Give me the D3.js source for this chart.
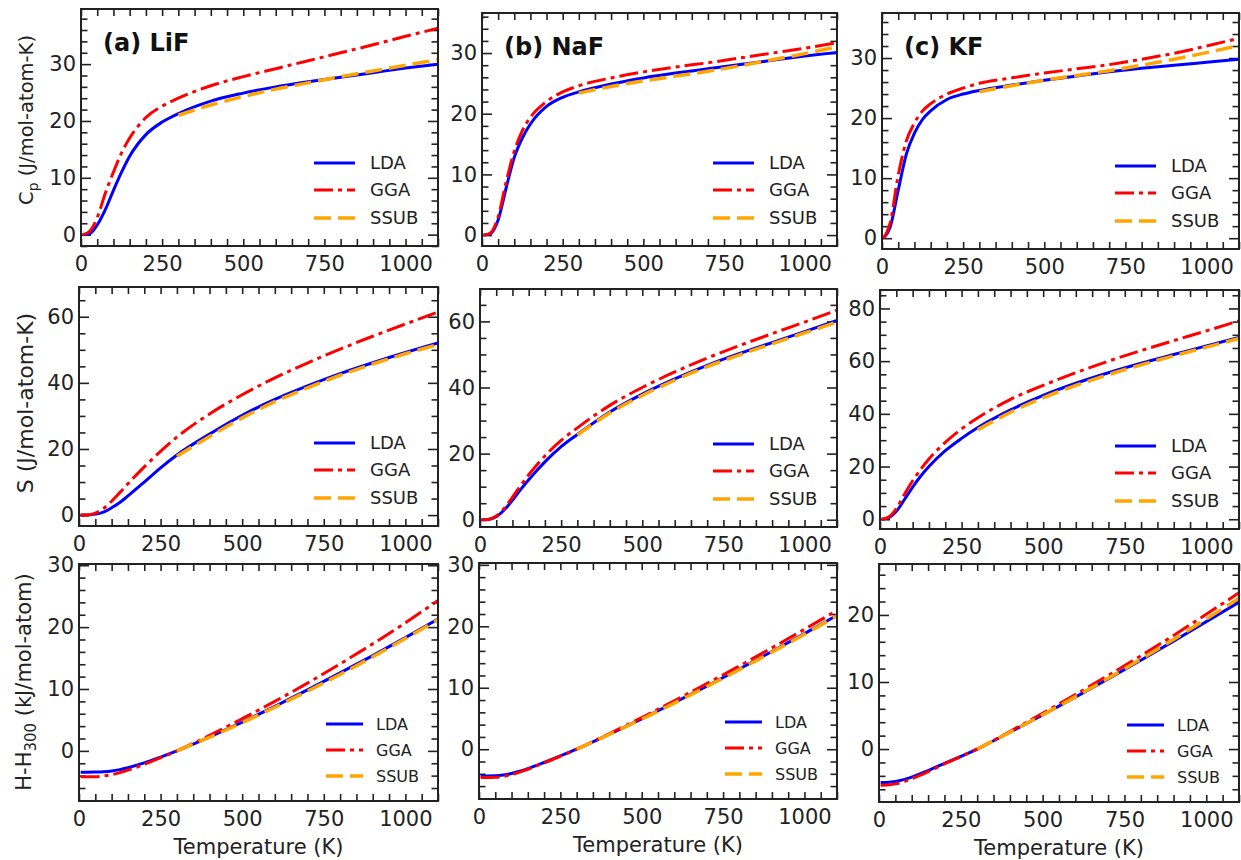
<!DOCTYPE html>
<html>
<head>
<meta charset="utf-8">
<script src="https://cdn.jsdelivr.net/npm/d3@7"></script>
<style>
  body { margin: 0; background: #fff; }
  svg { display: block; font-family: "DejaVu Sans", sans-serif; }
</style>
</head>
<body>
<svg id="fig" width="1241" height="860"></svg>
<script>
// temperatures (K) used for every curve, SSUB only from 300 K
var temps = [5, 25, 50, 75, 100, 125, 150, 200, 250, 300, 400, 500, 600, 700, 800, 900, 1000, 1100];
var ssubTemps = [300, 400, 500, 600, 700, 800, 900, 1000, 1100];

// heat capacity Cp (J/mol-atom-K)
var cpLiF_LDA  = [0, 0.1, 1.7, 4.4, 7.8, 11.0, 13.8, 17.6, 19.8, 21.3, 23.5, 24.9, 26.0, 26.9, 27.7, 28.5, 29.3, 30.0];
var cpLiF_GGA  = [0, 0.5, 3.0, 7.3, 11.0, 14.4, 17.0, 20.6, 22.6, 24.0, 26.2, 27.8, 29.2, 30.6, 32.0, 33.4, 34.9, 36.3];
var cpLiF_SSUB = [21.0, 22.8, 24.3, 25.6, 26.7, 27.8, 28.8, 29.8, 30.8];
var cpNaF_LDA  = [0, 0.2, 2.5, 7.8, 12.8, 16.0, 18.3, 21.2, 22.7, 23.6, 24.9, 25.9, 26.7, 27.4, 28.1, 28.8, 29.5, 30.1];
var cpNaF_GGA  = [0, 0.3, 3.0, 8.8, 13.8, 17.2, 19.4, 22.0, 23.6, 24.6, 25.9, 26.9, 27.7, 28.4, 29.2, 30.0, 30.8, 31.7];
var cpNaF_SSUB = [23.4, 24.5, 25.4, 26.2, 27.0, 27.9, 28.9, 29.9, 31.0];
var cpKF_LDA   = [0, 1.8, 8.0, 14.0, 17.5, 19.8, 21.2, 23.1, 24.0, 24.6, 25.5, 26.3, 27.0, 27.7, 28.3, 28.8, 29.3, 29.8];
var cpKF_GGA   = [0, 2.5, 10.5, 16.2, 19.2, 21.2, 22.4, 24.0, 25.0, 25.8, 26.7, 27.5, 28.2, 28.9, 29.8, 30.8, 32.0, 33.3];
var cpKF_SSUB  = [24.4, 25.4, 26.3, 27.1, 27.9, 28.8, 29.8, 30.9, 32.1];

// entropy S (J/mol-atom-K)
var sLiF_LDA  = [0, 0, 0.3, 0.9, 2.2, 3.8, 5.8, 10.0, 14.3, 18.2, 24.5, 30.2, 35.0, 39.1, 42.8, 46.1, 49.2, 52.1];
var sLiF_GGA  = [0, 0.05, 0.6, 2.0, 4.2, 6.8, 9.5, 14.6, 19.3, 23.6, 30.6, 36.4, 41.5, 46.0, 50.2, 54.1, 57.8, 61.4];
var sLiF_SSUB = [17.8, 23.8, 29.4, 34.3, 38.5, 42.3, 45.7, 48.8, 51.6];
var sNaF_LDA  = [0, 0.1, 0.9, 3.0, 5.9, 9.1, 12.1, 17.5, 22.1, 25.8, 32.6, 38.0, 42.6, 46.7, 50.3, 53.6, 56.9, 60.3];
var sNaF_GGA  = [0, 0.1, 1.1, 3.5, 6.8, 10.3, 13.6, 19.3, 24.0, 27.8, 34.6, 40.0, 44.7, 48.9, 52.7, 56.3, 59.8, 63.4];
var sNaF_SSUB = [25.6, 32.3, 37.6, 42.2, 46.3, 49.9, 53.2, 56.5, 59.8];
var sKF_LDA   = [0, 0.5, 3.0, 7.5, 12.2, 16.4, 20.0, 26.0, 30.7, 34.8, 41.5, 47.0, 51.6, 55.6, 59.2, 62.5, 65.8, 69.0];
var sKF_GGA   = [0, 0.7, 4.0, 9.5, 14.6, 19.0, 22.9, 29.2, 34.3, 38.5, 45.5, 50.8, 55.6, 60.0, 64.0, 67.8, 71.5, 75.3];
var sKF_SSUB  = [34.0, 40.6, 46.1, 50.8, 54.9, 58.6, 62.0, 65.3, 68.6];

// enthalpy H-H300 (kJ/mol-atom)
var hLiF_LDA  = [-3.45, -3.45, -3.43, -3.37, -3.25, -3.03, -2.72, -1.94, -1.0, 0, 2.25, 4.65, 7.2, 9.85, 12.6, 15.4, 18.3, 21.3];
var hLiF_GGA  = [-4.2, -4.2, -4.17, -4.06, -3.84, -3.51, -3.11, -2.16, -1.1, 0, 2.5, 5.2, 8.0, 10.95, 14.05, 17.3, 20.7, 24.3];
var hLiF_SSUB = [0, 2.2, 4.55, 7.05, 9.65, 12.35, 15.2, 18.15, 21.2];
var hNaF_LDA  = [-4.35, -4.35, -4.33, -4.2, -3.95, -3.58, -3.15, -2.16, -1.1, 0, 2.42, 4.95, 7.58, 10.28, 13.05, 15.9, 18.8, 21.8];
var hNaF_GGA  = [-4.6, -4.6, -4.57, -4.42, -4.12, -3.72, -3.26, -2.23, -1.13, 0, 2.52, 5.15, 7.88, 10.68, 13.55, 16.5, 19.5, 22.6];
var hNaF_SSUB = [0, 2.4, 4.9, 7.5, 10.2, 12.95, 15.8, 18.7, 21.7];
var hKF_LDA   = [-5.0, -4.98, -4.85, -4.57, -4.18, -3.72, -3.21, -2.13, -1.08, 0, 2.5, 5.08, 7.74, 10.47, 13.25, 16.1, 19.0, 21.9];
var hKF_GGA   = [-5.4, -5.37, -5.2, -4.88, -4.43, -3.93, -3.38, -2.22, -1.12, 0, 2.62, 5.33, 8.12, 10.97, 13.9, 16.95, 20.1, 23.3];
var hKF_SSUB  = [0, 2.5, 5.1, 7.8, 10.55, 13.4, 16.35, 19.4, 22.5];

// tick labels
var xTicks = [0, 250, 500, 750, 1000];
var cpTicks = [0, 10, 20, 30];
var sTicks = [0, 20, 40, 60, 80];
var hTicks = [-10, 0, 10, 20, 30];
var seriesNames = ["LDA", "GGA", "SSUB"];

var colors = { LDA: "#0000ff", GGA: "#ff0000", SSUB: "#ffa500" };
var dashes = { LDA: null, GGA: "19,5,4,5", SSUB: "17,7" };
var widths = { LDA: 3, GGA: 3, SSUB: 3.5 };
var ink = "#222";

var svg = d3.select("#fig");

var panels = [
  { id: "a1", x0: 81, x1: 438, y0: 9, y1: 246, dom: [-2, 39.7], ticks: cpTicks, minor: 2,
    data: [cpLiF_LDA, cpLiF_GGA, cpLiF_SSUB], title: "(a) LiF", ylab: "cp", leg: 18 },
  { id: "b1", x0: 482, x1: 837, y0: 13, y1: 246, dom: [-1.8, 36.6], ticks: cpTicks, minor: 2,
    data: [cpNaF_LDA, cpNaF_GGA, cpNaF_SSUB], title: "(b) NaF", leg: 18 },
  { id: "c1", x0: 882, x1: 1239, y0: 13, y1: 249, dom: [-1.8, 37.5], ticks: cpTicks, minor: 2,
    data: [cpKF_LDA, cpKF_GGA, cpKF_SSUB], title: "(c) KF", leg: 18 },
  { id: "a2", x0: 79, x1: 438, y0: 287, y1: 526, dom: [-3.3, 69], ticks: sTicks, minor: 5,
    data: [sLiF_LDA, sLiF_GGA, sLiF_SSUB], ylab: "s", leg: 18 },
  { id: "b2", x0: 480, x1: 837, y0: 289, y1: 527, dom: [-2.2, 69.8], ticks: sTicks, minor: 5,
    data: [sNaF_LDA, sNaF_GGA, sNaF_SSUB], leg: 18 },
  { id: "c2", x0: 880, x1: 1239, y0: 290, y1: 529, dom: [-3.7, 87], ticks: sTicks, minor: 5,
    data: [sKF_LDA, sKF_GGA, sKF_SSUB], leg: 18 },
  { id: "a3", x0: 79, x1: 438, y0: 564, y1: 801, dom: [-8.1, 30.2], ticks: hTicks, minor: 2,
    data: [hLiF_LDA, hLiF_GGA, hLiF_SSUB], ylab: "h", xlab: true, leg: 16 },
  { id: "b3", x0: 479, x1: 837, y0: 563, y1: 799, dom: [-8.1, 30.3], ticks: hTicks, minor: 2,
    data: [hNaF_LDA, hNaF_GGA, hNaF_SSUB], xlab: true, leg: 16 },
  { id: "c3", x0: 879, x1: 1239, y0: 564, y1: 802, dom: [-7.9, 27.6], ticks: hTicks, minor: 2,
    data: [hKF_LDA, hKF_GGA, hKF_SSUB], xlab: true, leg: 16 }
];

function inside(v, dom){ return v >= dom[0] - 1e-9 && v <= dom[1] + 1e-9; }

function styleAxis(sel, fs){
  sel.select(".domain").remove();
  sel.selectAll(".tick line").attr("stroke", ink).attr("stroke-width", 1.6);
  sel.selectAll(".tick text").attr("fill", ink).attr("font-size", fs)
     .attr("font-family", "DejaVu Sans, sans-serif");
}

function drawPanel(p){
  var x = d3.scaleLinear().domain([0, 1100]).range([p.x0, p.x1]);
  var y = d3.scaleLinear().domain(p.dom).range([p.y1, p.y0]);
  var g = svg.append("g");

  var xMinor = d3.range(0, 1101, 50);
  var yMajor = p.ticks.filter(function(d){ return inside(d, p.dom); });
  var yMinor = d3.range(Math.ceil(p.dom[0] / p.minor) * p.minor, p.dom[1], p.minor)
    .filter(function(d){ return yMajor.indexOf(d) < 0; });

  // bottom and top ticks (inward)
  g.append("g").attr("transform", "translate(0," + p.y1 + ")")
    .call(d3.axisBottom(x).tickValues(xMinor).tickSize(-7).tickPadding(10)
      .tickFormat(function(d){ return xTicks.indexOf(d) >= 0 ? d : ""; }))
    .call(styleAxis, 21);
  g.append("g").attr("transform", "translate(0," + p.y0 + ")")
    .call(d3.axisTop(x).tickValues(xMinor).tickSize(-7).tickFormat(""))
    .call(styleAxis, 21);

  // left and right ticks
  g.append("g").attr("transform", "translate(" + p.x0 + ",0)")
    .call(d3.axisLeft(y).tickValues(yMajor).tickSize(-10).tickPadding(5).tickFormat(d3.format("d")))
    .call(styleAxis, 21);
  g.append("g").attr("transform", "translate(" + p.x0 + ",0)")
    .call(d3.axisLeft(y).tickValues(yMinor).tickSize(-6.5).tickFormat(""))
    .call(styleAxis, 21);
  g.append("g").attr("transform", "translate(" + p.x1 + ",0)")
    .call(d3.axisRight(y).tickValues(yMajor).tickSize(-10).tickFormat(""))
    .call(styleAxis, 21);
  g.append("g").attr("transform", "translate(" + p.x1 + ",0)")
    .call(d3.axisRight(y).tickValues(yMinor).tickSize(-6.5).tickFormat(""))
    .call(styleAxis, 21);

  // curves
  svg.append("clipPath").attr("id", "clip" + p.id)
    .append("rect").attr("x", p.x0).attr("y", p.y0)
    .attr("width", p.x1 - p.x0).attr("height", p.y1 - p.y0);

  var line = d3.line()
    .x(function(d){ return x(d[0]); })
    .y(function(d){ return y(d[1]); })
    .curve(d3.curveMonotoneX);

  seriesNames.forEach(function(name, i){
    var ts = name == "SSUB" ? ssubTemps : temps;
    var pts = ts.map(function(t, j){ return [t, p.data[i][j]]; });
    g.append("path").datum(pts)
      .attr("clip-path", "url(#clip" + p.id + ")")
      .attr("d", line)
      .attr("fill", "none")
      .attr("stroke", colors[name])
      .attr("stroke-width", widths[name])
      .attr("stroke-dasharray", dashes[name]);
  });

  // frame
  g.append("rect").attr("x", p.x0).attr("y", p.y0)
    .attr("width", p.x1 - p.x0).attr("height", p.y1 - p.y0)
    .attr("fill", "none").attr("stroke", ink).attr("stroke-width", 2);

  // legend, lower right
  var big = p.leg == 18;
  var lx0 = p.x1 - (big ? 124 : 112), lx1 = p.x1 - (big ? 83 : 75), tx = p.x1 - (big ? 68 : 62);
  var rows = big ? [83, 56, 28] : [77, 51, 25];
  seriesNames.forEach(function(name, i){
    var ly = p.y1 - rows[i];
    g.append("line").attr("x1", lx0).attr("x2", lx1).attr("y1", ly).attr("y2", ly)
      .attr("stroke", colors[name]).attr("stroke-width", widths[name])
      .attr("stroke-dasharray", dashes[name]);
    g.append("text").attr("x", tx).attr("y", ly).attr("dy", "0.36em")
      .attr("font-size", p.leg).attr("fill", ink).text(name);
  });

  if (p.title) {
    g.append("text").attr("x", p.x0 + 22).attr("y", p.y0 + 42)
      .attr("font-size", 24).attr("font-weight", "bold").attr("fill", "#111")
      .text(p.title);
  }

  if (p.xlab) {
    g.append("text").attr("x", (p.x0 + p.x1) / 2).attr("y", p.y1 + 53)
      .attr("text-anchor", "middle").attr("font-size", 21).attr("fill", ink)
      .text("Temperature (K)");
  }

  // y labels only on the left column
  if (p.ylab == "cp") {
    var t = g.append("text").attr("transform", "translate(33,120) rotate(-90)")
      .attr("text-anchor", "middle").attr("font-size", 19.5).attr("fill", ink);
    t.append("tspan").text("C");
    t.append("tspan").attr("dy", 5).attr("font-size", 14).text("p");
    t.append("tspan").attr("dy", -5).text(" (J/mol-atom-K)");
  } else if (p.ylab == "s") {
    g.append("text").attr("transform", "translate(33,403) rotate(-90)")
      .attr("text-anchor", "middle").attr("font-size", 22).attr("fill", ink)
      .text("S (J/mol-atom-K)");
  } else if (p.ylab == "h") {
    var th = g.append("text").attr("transform", "translate(31,682) rotate(-90)")
      .attr("text-anchor", "middle").attr("font-size", 21).attr("fill", ink);
    th.append("tspan").text("H-H");
    th.append("tspan").attr("dy", 5).attr("font-size", 15).text("300");
    th.append("tspan").attr("dy", -5).text(" (kJ/mol-atom)");
  }
}

panels.forEach(drawPanel);
</script>
</body>
</html>
